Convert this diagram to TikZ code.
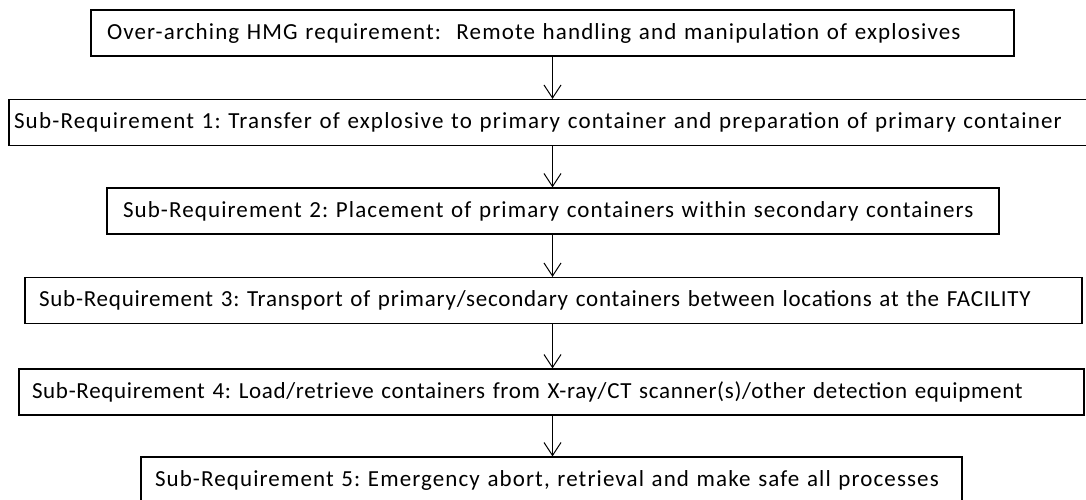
\documentclass[tikz,border=0pt]{standalone}
\usepackage{fontspec}
\setmainfont{Carlito}
\usetikzlibrary{arrows.meta}

\tikzset{
  reqbox/.style n args={3}{draw, line width=1.2pt, inner xsep=#1, inner ysep=0pt,
    text width=#2, align=left, minimum height=46pt,
    font=\fontsize{23}{27}\selectfont\addfontfeature{LetterSpace=#3}\frenchspacing},
  >={Straight Barb[length=13pt,width=17pt]},
}

\begin{document}
\begin{tikzpicture}[x=1pt,y=-1pt]
        \useasboundingbox (0,0) rectangle (1086,499);
        \node[reqbox={16pt}{891pt}{4.9}] (r0) at (552.5,33) {Over-arching HMG requirement:\ \ Remote handling and manipulation of explosives};
        \node[reqbox={5pt}{1069pt}{5.2}] (r1) at (548.5,122.5) {Sub-Requirement 1: Transfer of explosive to primary container and preparation of primary container};
        \node[reqbox={16pt}{860pt}{4.8}] (r2) at (553,211) {Sub-Requirement 2: Placement of primary containers within secondary containers};
        \node[reqbox={14pt}{1029pt}{3.4}] (r3) at (553.5,300.5) {Sub-Requirement 3: Transport of primary/secondary containers between locations at the FACILITY};
        \node[reqbox={13pt}{1039pt}{3.0}] (r4) at (551.5,392) {Sub-Requirement 4: Load/retrieve containers from X-ray/CT scanner(s)/other detection equipment};
        \node[reqbox={14pt}{793pt}{4.8}] (r5) at (551.5,480) {Sub-Requirement 5: Emergency abort, retrieval and make safe all processes};
        \foreach \a/\b in {r0/r1,r1/r2,r2/r3,r3/r4,r4/r5}
          \draw[->, line width=1pt] (r0.south |- \a.south) -- (r0.south |- \b.north);
      \end{tikzpicture}
\end{document}
